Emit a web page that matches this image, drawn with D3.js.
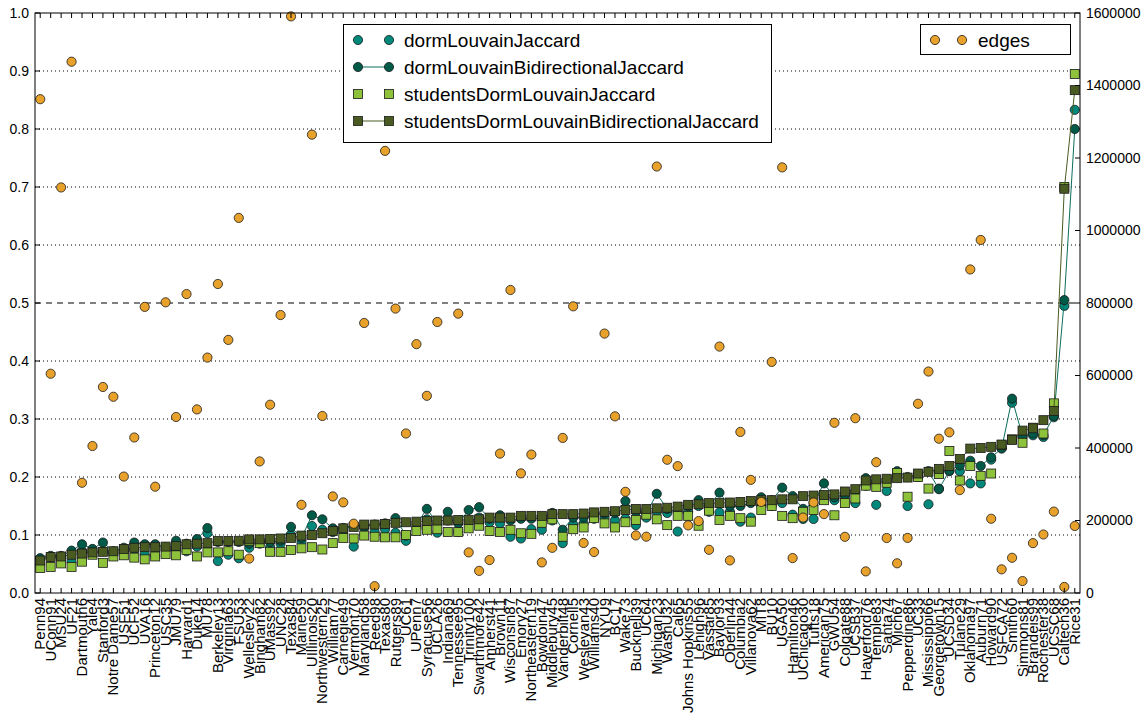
<!DOCTYPE html>
<html>
<head>
<meta charset="utf-8">
<script src="https://cdn.jsdelivr.net/npm/d3@7"></script>
<style>
body { margin: 0; background: #fff; }
text { font-family: "Liberation Sans", Arial, sans-serif; }
</style>
</head>
<body>
<svg id="chart"></svg>
<script>
// schools, sorted by studentsDormLouvainBidirectionalJaccard
const schools = ["Penn94","UConn91","MSU24","UF21","Dartmouth6","Yale4","Stanford3","Notre Dame57","USF51","UCF52",
  "UVA16","Princeton12","USC35","JMU79","Harvard1","Duke14","MU78","Berkeley13","Virginia63","FSU53",
  "Wellesley22","Bingham82","UMass92","UNC28","Texas84","Maine59","UIllinois20","Northwestern25","William77","Carnegie49",
  "Vermont70","Maryland58","Reed98","Texas80","Rutgers89","UC61","UPenn7","Syracuse56","UCLA26","Indiana69",
  "Tennessee95","Trinity100","Swarthmore42","Amherst41","Brown11","Wisconsin87","Emory27","Northeastern19","Bowdoin47","Middlebury45",
  "Vanderbilt48","Cornell5","Wesleyan43","Williams40","NYU9","BC17","Wake73","Bucknell39","UC64","Michigan23",
  "WashU32","Cal65","Johns Hopkins55","Lehigh96","Vassar85","Baylor93","Oberlin44","Columbia2","Villanova62","MIT8",
  "BU10","UGA50","Hamilton46","UChicago30","Tufts18","American75","GWU54","Colgate88","UCSB37","Haverford76",
  "Temple83","Santa74","Mich67","Pepperdine86","UC33","Mississippi66","Georgetown15","UCSD34","Tulane29","Oklahoma97",
  "Auburn71","Howard90","USFCA72","Smith60","Simmons81","Brandeis99","Rochester38","UCSC68","Caltech36","Rice31"]

const dormLouvainJaccard = [0.058,0.062,0.060,0.054,0.072,0.070,0.072,0.068,0.074,0.075,
  0.067,0.064,0.075,0.075,0.072,0.080,0.103,0.055,0.066,0.060,
  0.078,0.085,0.079,0.085,0.100,0.088,0.1155,0.109,0.105,0.108,
  0.080,0.112,0.105,0.110,0.104,0.090,0.112,0.127,0.104,0.125,
  0.105,0.124,0.130,0.122,0.120,0.097,0.094,0.110,0.109,0.125,
  0.086,0.118,0.120,0.128,0.130,0.125,0.128,0.117,0.130,0.140,
  0.138,0.106,0.140,0.150,0.140,0.139,0.140,0.123,0.130,0.150,
  0.150,0.155,0.135,0.1276,0.1276,0.165,0.160,0.165,0.155,0.185,
  0.152,0.176,0.205,0.150,0.200,0.153,0.180,0.210,0.210,0.189,
  0.189,0.230,0.250,0.328,0.270,0.272,0.269,0.303,0.495,0.833]

const dormLouvainBidirectionalJaccard = [0.060,0.064,0.064,0.073,0.084,0.076,0.087,0.072,0.078,0.087,
  0.084,0.084,0.079,0.090,0.085,0.093,0.112,0.088,0.088,0.088,
  0.085,0.090,0.088,0.090,0.114,0.095,0.134,0.127,0.1115,0.112,
  0.117,0.115,0.118,0.120,0.129,0.099,0.118,0.145,0.120,0.140,
  0.120,0.143,0.148,0.128,0.134,0.125,0.128,0.128,0.130,0.138,
  0.109,0.130,0.130,0.135,0.137,0.138,0.1586,0.140,0.137,0.171,
  0.145,0.140,0.150,0.160,0.150,0.173,0.150,0.150,0.155,0.165,
  0.160,0.1816,0.167,0.145,0.155,0.189,0.165,0.170,0.175,0.198,
  0.190,0.195,0.210,0.200,0.205,0.210,0.179,0.211,0.220,0.228,
  0.219,0.234,0.249,0.335,0.270,0.275,0.272,0.305,0.505,0.800]

const studentsDormLouvainJaccard = [0.043,0.045,0.051,0.045,0.054,0.066,0.052,0.063,0.065,0.061,
  0.058,0.063,0.067,0.065,0.074,0.063,0.070,0.070,0.072,0.066,
  0.090,0.086,0.071,0.071,0.074,0.077,0.079,0.075,0.086,0.095,
  0.094,0.099,0.097,0.096,0.096,0.100,0.107,0.109,0.110,0.105,
  0.105,0.1115,0.116,0.107,0.105,0.109,0.103,0.102,0.121,0.127,
  0.097,0.110,0.113,0.129,0.120,0.113,0.122,0.126,0.135,0.127,
  0.117,0.133,0.133,0.116,0.142,0.126,0.133,0.129,0.123,0.143,
  0.150,0.133,0.129,0.140,0.143,0.160,0.134,0.155,0.163,0.185,
  0.183,0.190,0.207,0.166,0.200,0.180,0.205,0.245,0.194,0.219,
  0.202,0.206,0.255,0.265,0.259,0.285,0.275,0.327,0.700,0.895]

const studentsDormLouvainBidirectionalJaccard = [0.056,0.062,0.063,0.066,0.068,0.070,0.071,0.072,0.076,0.078,
  0.079,0.079,0.080,0.081,0.084,0.085,0.086,0.0895,0.0897,0.090,
  0.0925,0.0925,0.093,0.094,0.095,0.099,0.100,0.103,0.107,0.1115,
  0.114,0.118,0.118,0.119,0.121,0.122,0.123,0.124,0.125,0.125,
  0.126,0.126,0.127,0.130,0.130,0.130,0.133,0.133,0.133,0.136,
  0.136,0.136,0.137,0.139,0.140,0.141,0.143,0.145,0.145,0.146,
  0.147,0.149,0.152,0.153,0.155,0.155,0.156,0.157,0.1586,0.160,
  0.160,0.1615,0.1615,0.167,0.168,0.169,0.170,0.175,0.179,0.194,
  0.196,0.197,0.198,0.199,0.206,0.209,0.214,0.219,0.231,0.249,
  0.250,0.252,0.256,0.264,0.280,0.284,0.298,0.314,0.697,0.867]

const edges = [1362229,604867,1118767,1465654,304076,405450,568330,541336,321214,428987,
  789308,293320,801851,485564,824617,506437,649449,852444,698178,1034799,
  94899,362894,519376,766800,1590655,243245,1264421,488337,266378,249967,
  191221,744862,18812,1219639,784602,440000,686501,543975,747613,1305757,
  770658,111996,61050,90954,384526,835952,330008,381934,84387,124610,
  427832,790777,138034,112986,715673,487337,279186,158864,155332,1176489,
  367541,350000,186586,198346,119161,679817,89912,444333,312000,251252,
  637528,1174057,96394,208103,249722,217662,469528,155043,482215,59589,
  360797,151747,81901,152003,522000,610911,425638,443221,283912,892528,
  973918,204850,65252,97133,32988,137567,161403,224584,16651,184828]

const leftTicks = [0.0,0.1,0.2,0.3,0.4,0.5,0.6,0.7,0.8,0.9,1.0]
const rightTicks = [0,200000,400000,600000,800000,1000000,1200000,1400000,1600000]

const colors = {
    teal: "#00897b",
    dark: "#005a48",
    light: "#8dc23a",
    olive: "#4a5b22",
    orange: "#e8a12a"
}

const width = 1145, height = 723
const margin = {left: 35, right: 1080, top: 13, bottom: 593}

let svg = d3.select("#chart").attr("width", width).attr("height", height)

let x = d3.scalePoint().domain(schools).range([margin.left, margin.right]).padding(0.5)
let yL = d3.scaleLinear().domain([0, 1]).range([margin.bottom, margin.top])
let yR = d3.scaleLinear().domain([0, 1600000]).range([margin.bottom, margin.top])

// grid
svg.append("g").selectAll("line")
    .data(leftTicks.filter(d => d > 0 && d < 1 && d !== 0.5))
    .join("line")
    .attr("x1", margin.left).attr("x2", margin.right)
    .attr("y1", d => yL(d)).attr("y2", d => yL(d))
    .attr("stroke", "#000").attr("stroke-width", 1)
    .attr("stroke-dasharray", "1,3")
svg.append("line")
    .attr("x1", margin.left).attr("x2", margin.right)
    .attr("y1", yL(0.5)).attr("y2", yL(0.5))
    .attr("stroke", "#000").attr("stroke-width", 1)
    .attr("stroke-dasharray", "6,5")

function circles(data, color) {
    svg.append("g").selectAll("circle")
        .data(data)
        .join("circle")
        .attr("cx", (d, i) => x(schools[i]))
        .attr("cy", d => yL(d))
        .attr("r", 4.6)
        .attr("fill", color)
        .attr("stroke", "#1a1a1a").attr("stroke-width", 0.8)
}
function squares(data, color) {
    svg.append("g").selectAll("rect")
        .data(data)
        .join("rect")
        .attr("x", (d, i) => x(schools[i]) - 4.5)
        .attr("y", d => yL(d) - 4.5)
        .attr("width", 9).attr("height", 9)
        .attr("fill", color)
        .attr("stroke", "#1a1a1a").attr("stroke-width", 0.8)
}
function line(data, color) {
    let path = d3.line()
        .x((d, i) => x(schools[i]))
        .y(d => yL(d))
    svg.append("path")
        .attr("fill", "none")
        .attr("stroke", color)
        .attr("stroke-width", 1)
        .attr("d", path(data))
}

circles(dormLouvainJaccard, colors.teal)
line(dormLouvainBidirectionalJaccard, "#0b6e5c")
circles(dormLouvainBidirectionalJaccard, colors.dark)
squares(studentsDormLouvainJaccard, colors.light)
line(studentsDormLouvainBidirectionalJaccard, colors.olive)
squares(studentsDormLouvainBidirectionalJaccard, colors.olive)

svg.append("g").selectAll("circle")
    .data(edges)
    .join("circle")
    .attr("cx", (d, i) => x(schools[i]))
    .attr("cy", d => yR(d))
    .attr("r", 4.6)
    .attr("fill", colors.orange)
    .attr("stroke", "#1a1a1a").attr("stroke-width", 0.8)

// frame
svg.append("rect")
    .attr("x", margin.left).attr("y", margin.top)
    .attr("width", margin.right - margin.left).attr("height", margin.bottom - margin.top)
    .attr("fill", "none").attr("stroke", "#000").attr("stroke-width", 1)

// left axis ticks + labels
let gl = svg.append("g")
leftTicks.forEach(t => {
    gl.append("line").attr("x1", margin.left).attr("x2", margin.left + 5)
        .attr("y1", yL(t)).attr("y2", yL(t)).attr("stroke", "#000")
    gl.append("text").attr("x", margin.left - 6).attr("y", yL(t))
        .attr("dy", "0.35em").attr("text-anchor", "end")
        .attr("font-size", 14).text(t.toFixed(1))
})
// right axis ticks + labels
let gr = svg.append("g")
rightTicks.forEach(t => {
    gr.append("line").attr("x1", margin.right - 5).attr("x2", margin.right)
        .attr("y1", yR(t)).attr("y2", yR(t)).attr("stroke", "#000")
    gr.append("text").attr("x", margin.right + 6).attr("y", yR(t))
        .attr("dy", "0.35em").attr("text-anchor", "start")
        .attr("font-size", 14).text(t)
})
// x ticks + labels
let gx = svg.append("g")
schools.forEach(s => {
    let xp = x(s)
    gx.append("line").attr("x1", xp).attr("x2", xp)
        .attr("y1", margin.bottom).attr("y2", margin.bottom - 5).attr("stroke", "#000")
    gx.append("line").attr("x1", xp).attr("x2", xp)
        .attr("y1", margin.top).attr("y2", margin.top + 5).attr("stroke", "#000")
    gx.append("text")
        .attr("transform", "translate(" + (xp + 5) + "," + (margin.bottom + 5) + ") rotate(-90)")
        .attr("text-anchor", "end")
        .attr("font-size", 15).text(s)
})

// legends
let lg = svg.append("g")
lg.append("rect").attr("x", 343.5).attr("y", 24.5).attr("width", 428).attr("height", 118)
    .attr("fill", "#fff").attr("stroke", "#000")
const entries = [
    {name: "dormLouvainJaccard", color: colors.teal, shape: "circle", line: null},
    {name: "dormLouvainBidirectionalJaccard", color: colors.dark, shape: "circle", line: "#0b6e5c"},
    {name: "studentsDormLouvainJaccard", color: colors.light, shape: "square", line: null},
    {name: "studentsDormLouvainBidirectionalJaccard", color: colors.olive, shape: "square", line: colors.olive}
]
entries.forEach((e, k) => {
    let cy = 40 + k * 27
    if (e.line) lg.append("line").attr("x1", 358).attr("x2", 389).attr("y1", cy).attr("y2", cy)
        .attr("stroke", e.line)
    ;[358, 389].forEach(cx => {
        if (e.shape === "circle") lg.append("circle").attr("cx", cx).attr("cy", cy).attr("r", 4.6)
            .attr("fill", e.color).attr("stroke", "#1a1a1a").attr("stroke-width", 0.8)
        else lg.append("rect").attr("x", cx - 4.5).attr("y", cy - 4.5).attr("width", 9).attr("height", 9)
            .attr("fill", e.color).attr("stroke", "#1a1a1a").attr("stroke-width", 0.8)
    })
    lg.append("text").attr("x", 404).attr("y", cy).attr("dy", "0.35em")
        .attr("font-size", 19).text(e.name)
})
lg.append("rect").attr("x", 920.5).attr("y", 24.5).attr("width", 150).attr("height", 30)
    .attr("fill", "#fff").attr("stroke", "#000")
;[935, 962].forEach(cx => {
    lg.append("circle").attr("cx", cx).attr("cy", 40).attr("r", 4.6)
        .attr("fill", colors.orange).attr("stroke", "#1a1a1a").attr("stroke-width", 0.8)
})
lg.append("text").attr("x", 978).attr("y", 40).attr("dy", "0.35em")
    .attr("font-size", 19).text("edges")
</script>
</body>
</html>
